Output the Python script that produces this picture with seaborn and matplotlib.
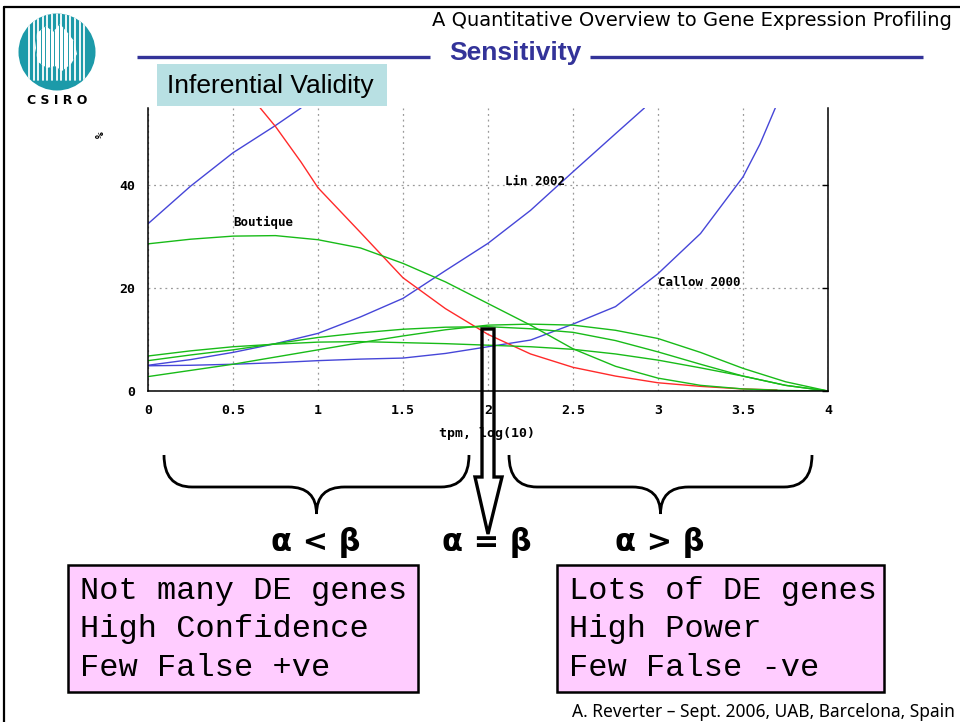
import numpy as np
import pandas as pd
import matplotlib
matplotlib.use('Agg')
import matplotlib.pyplot as plt
import seaborn as sns
from matplotlib.patches import Rectangle, Circle, PathPatch, Polygon
from matplotlib.path import Path

# values: x = tpm (log10), y = %
top_blue_x = [0, 0.25, 0.5, 0.75, 0.9]
top_blue_y = [32.5, 39.8, 46.3, 51.6, 55.0]

lin_x = [0, 0.25, 0.5, 0.75, 1.0, 1.25, 1.5, 1.75, 2.0, 2.25, 2.5, 2.75, 2.92]
lin_y = [5.0, 6.1, 7.5, 9.2, 11.2, 14.4, 18.0, 23.4, 28.7, 35.1, 42.6, 50.0, 55.0]

callow_x = [0, 0.25, 0.5, 0.75, 1.0, 1.25, 1.5, 1.75, 2.0, 2.25, 2.5, 2.75, 3.0, 3.25, 3.5, 3.6, 3.69]
callow_y = [4.9, 5.0, 5.2, 5.5, 5.9, 6.2, 6.4, 7.3, 8.6, 9.9, 13.0, 16.4, 22.8, 30.6, 41.6, 48.0, 55.0]

red_x = [0.66, 0.75, 0.9, 1.0, 1.25, 1.5, 1.75, 2.0, 2.25, 2.5, 2.75, 3.0, 3.25, 3.5, 3.7]
red_y = [55.0, 51.4, 44.5, 39.5, 30.8, 22.0, 16.0, 11.0, 7.2, 4.6, 2.9, 1.6, 0.9, 0.4, 0.2]

green_x = [0, 0.25, 0.5, 0.75, 1.0, 1.25, 1.5, 1.75, 2.0, 2.25, 2.5, 2.75, 3.0, 3.25, 3.5, 3.75, 4.0]
boutique_y = [28.6, 29.5, 30.1, 30.2, 29.4, 27.8, 24.8, 21.2, 17.0, 12.8, 8.2, 4.8, 2.5, 1.1, 0.4, 0.1, 0.0]
green_a_y = [6.8, 7.8, 8.6, 9.1, 9.5, 9.6, 9.4, 9.2, 8.9, 8.6, 8.1, 7.2, 6.0, 4.5, 2.9, 1.1, 0.0]
green_b_y = [5.9, 7.0, 8.0, 9.2, 10.4, 11.3, 12.0, 12.4, 12.5, 12.1, 11.4, 9.8, 7.6, 5.2, 2.9, 1.1, 0.0]
green_c_y = [2.8, 4.0, 5.2, 6.6, 8.0, 9.4, 10.7, 11.9, 12.8, 13.0, 12.8, 11.8, 10.2, 7.5, 4.4, 1.8, 0.0]

x_ticks = [0, 0.5, 1, 1.5, 2, 2.5, 3, 3.5, 4]
x_tick_labels = ['0', '0.5', '1', '1.5', '2', '2.5', '3', '3.5', '4']
y_ticks = [0, 20, 40]
y_tick_labels = ['0', '20', '40']

curve_labels = [('Boutique', 0.5, 32.8), ('Lin 2002', 2.1, 40.8), ('Callow 2000', 3.0, 21.0)]

left_box = ['Not many DE genes', 'High Confidence', 'Few False +ve']
right_box = ['Lots of DE genes', 'High Power', 'Few False -ve']

BLUE = '#4646d8'
RED = '#ff2a2a'
GREEN = '#18bb18'
TEAL = '#1c9aa9'

frames = []
for name, xs, ys in [('top', top_blue_x, top_blue_y), ('lin', lin_x, lin_y),
                     ('callow', callow_x, callow_y), ('red', red_x, red_y),
                     ('boutique', green_x, boutique_y), ('ga', green_x, green_a_y),
                     ('gb', green_x, green_b_y), ('gc', green_x, green_c_y)]:
    frames.append(pd.DataFrame({'x': xs, 'y': ys, 'curve': name}))
df = pd.concat(frames, ignore_index=True)
pal = {'top': BLUE, 'lin': BLUE, 'callow': BLUE, 'red': RED,
       'boutique': GREEN, 'ga': GREEN, 'gb': GREEN, 'gc': GREEN}

sns.set_style('white')
plt.rcParams['font.family'] = ['DejaVu Sans']
plt.rcParams['text.color'] = 'black'

W, H = 960, 722
fig = plt.figure(figsize=(W / 100, H / 100), dpi=100)
fig.patch.set_facecolor('white')

# plot area in pixels: left 148, right 828, top 108, bottom 391
ax = fig.add_axes([148 / W, 1 - 391 / H, 680 / W, 283 / H])
sns.lineplot(data=df, x='x', y='y', hue='curve', units='curve', estimator=None,
             palette=pal, legend=False, sort=False, lw=1.0, ax=ax)
ax.set_xlim(0, 4)
ax.set_ylim(0, 55)
ax.set_xticks(x_ticks)
ax.set_xticklabels(x_tick_labels)
ax.set_yticks(y_ticks)
ax.set_yticklabels(y_tick_labels)
ax.grid(True, linestyle=(0, (1.5, 3)), color='#999999', lw=0.9)
ax.tick_params(direction='in', length=4, width=1, right=True, labelright=False,
               pad=9, colors='black')
for lbl in ax.get_xticklabels() + ax.get_yticklabels():
    lbl.set_fontfamily('DejaVu Sans Mono')
    lbl.set_fontweight('bold')
    lbl.set_fontsize(9.5)
ax.spines['top'].set_visible(False)
for s in ['left', 'bottom', 'right']:
    ax.spines[s].set_color('black')
    ax.spines[s].set_linewidth(1.1)
ax.set_xlabel('')
ax.set_ylabel('')
for txt, lx, ly in curve_labels:
    ax.text(lx, ly, txt, fontfamily='DejaVu Sans Mono', fontweight='bold', fontsize=9,
            va='center', ha='left', color='black')

# overlay in pixel coordinates for the slide decorations
ov = fig.add_axes([0, 0, 1, 1], zorder=5)
ov.set_xlim(0, W)
ov.set_ylim(H, 0)
ov.axis('off')

# frame lines
ov.plot([4, W], [7, 7], color='black', lw=1.6)
ov.plot([4, 4], [7, H], color='black', lw=1.6)

# logo
logo = Circle((57, 52), 38.5, fc=TEAL, ec='none')
ov.add_patch(logo)
for sx in np.arange(29, 88, 4.6):
    ln, = ov.plot([sx, sx], [10, 80], color='white', lw=1.3)
    ln.set_clip_path(logo)
oz = [(37, 33), (46, 26), (53, 32), (60, 24), (67, 32), (74, 41), (77, 54), (71, 64),
      (62, 71), (55, 66), (47, 68), (38, 62), (35, 48)]
aus = Polygon(oz, closed=True, fc='white', ec='none')
ov.add_patch(aus)
for sx in np.arange(31.3, 88, 4.6):
    ln, = ov.plot([sx, sx], [10, 80], color=TEAL, lw=0.7)
    ln.set_clip_path(aus)
ov.text(57, 100, 'C S I R O', ha='center', va='center', fontsize=9, fontweight='bold')

# header texts
ov.text(952, 21, 'A Quantitative Overview to Gene Expression Profiling', ha='right',
        va='center', fontsize=14)
ov.text(515, 53, 'Sensitivity', ha='center', va='center', fontsize=19, fontweight='bold',
        color='#333399', fontfamily='Liberation Sans')
ov.plot([137, 430], [57, 57], color='#333399', lw=2.4, solid_capstyle='butt')
ov.plot([590, 923], [57, 57], color='#333399', lw=2.4, solid_capstyle='butt')

ov.add_patch(Rectangle((157, 64), 230, 42, fc='#b8e0e3', ec='none'))
ov.text(167, 86, 'Inferential Validity', ha='left', va='center', fontsize=19,
        fontfamily='Liberation Sans')

# axis labels of the gnuplot chart
ov.text(101, 135, '%', rotation=90, ha='center', va='center', fontsize=8,
        fontfamily='DejaVu Sans Mono', fontweight='bold')
ov.text(487, 433, 'tpm, log(10)', ha='center', va='center', fontsize=9.5,
        fontfamily='DejaVu Sans Mono', fontweight='bold')


def brace(x0, x1, ytop, ymid, ybot, r=28):
    xc = (x0 + x1) / 2
    verts = [(x0, ytop), (x0, ymid), (x0 + r, ymid),
             (xc - r, ymid), (xc, ymid), (xc, ybot),
             (xc, ymid), (xc + r, ymid),
             (x1 - r, ymid), (x1, ymid), (x1, ytop)]
    codes = [Path.MOVETO, Path.CURVE3, Path.CURVE3,
             Path.LINETO, Path.CURVE3, Path.CURVE3,
             Path.CURVE3, Path.CURVE3,
             Path.LINETO, Path.CURVE3, Path.CURVE3]
    ov.add_patch(PathPatch(Path(verts, codes), fc='none', ec='black', lw=2.0))


brace(164, 469, 455, 487, 514)
brace(509, 812, 455, 487, 514)

# down arrow (outline only, the plot shows through the shaft)
arrow = Polygon([(482, 329), (494, 329), (494, 477), (502, 477), (488, 534),
                 (475, 477), (482, 477)], closed=True, fc='none', ec='black', lw=2.4,
                joinstyle='miter')
ov.add_patch(arrow)

for tx, px in [('\u03b1 < \u03b2', 316), ('\u03b1 = \u03b2', 487), ('\u03b1 > \u03b2', 660)]:
    ov.text(px, 543, tx, ha='center', va='center', fontsize=22, fontweight='bold')

# pink boxes
ov.add_patch(Rectangle((68, 565), 350, 127, fc='#ffccff', ec='black', lw=1.8))
ov.add_patch(Rectangle((557, 565), 327, 127, fc='#ffccff', ec='black', lw=1.8))
for i, line in enumerate(left_box):
    ov.text(80, 591 + 38.5 * i, line, ha='left', va='center', fontsize=23,
            fontfamily='Liberation Mono')
for i, line in enumerate(right_box):
    ov.text(569, 591 + 38.5 * i, line, ha='left', va='center', fontsize=23,
            fontfamily='Liberation Mono')

ov.text(955, 712, 'A. Reverter \u2013 Sept. 2006, UAB, Barcelona, Spain', ha='right',
        va='center', fontsize=12.5, fontfamily='Noto Sans')

fig.savefig('out.png', dpi=100)
